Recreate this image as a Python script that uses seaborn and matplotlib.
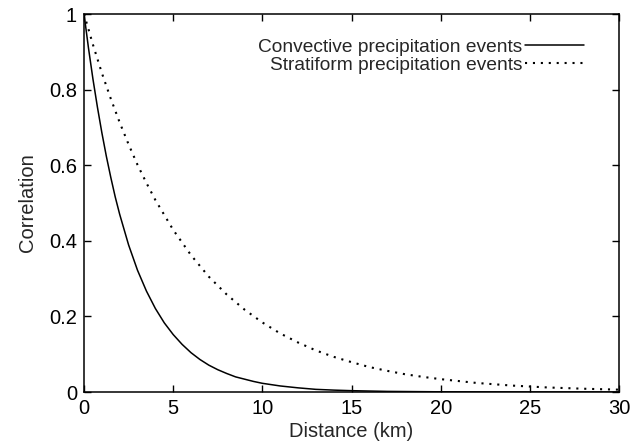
import matplotlib
matplotlib.use("Agg")
import matplotlib.pyplot as plt
import seaborn as sns
import pandas as pd

# Values
conv_km = [0, 0.25, 0.5, 0.75, 1, 1.25, 1.5, 1.75, 2, 2.5, 3, 3.5, 4, 4.5, 5, 5.5, 6,
           6.5, 7, 7.5, 8, 8.5, 9, 9.5, 10, 11, 12, 13, 14, 15, 17, 20, 25, 30]
conv_corr = [1.000, 0.910, 0.828, 0.754, 0.686, 0.624, 0.568, 0.516, 0.470, 0.389,
             0.322, 0.267, 0.221, 0.183, 0.152, 0.126, 0.104, 0.086, 0.071, 0.059,
             0.049, 0.040, 0.034, 0.028, 0.023, 0.016, 0.011, 0.007, 0.005, 0.0035,
             0.0016, 0.0005, 0.0001, 0.0]
strat_km = [0, 0.5, 1, 1.5, 2, 2.5, 3, 3.5, 4, 5, 6, 7, 8, 9, 10, 11, 12, 13, 14,
            15, 16, 17, 18, 19, 20, 22, 24, 26, 28, 30]
strat_corr = [1.000, 0.919, 0.844, 0.776, 0.713, 0.655, 0.601, 0.553, 0.508, 0.429,
              0.362, 0.305, 0.258, 0.218, 0.184, 0.155, 0.131, 0.110, 0.093, 0.079,
              0.066, 0.056, 0.047, 0.040, 0.034, 0.024, 0.017, 0.012, 0.0087, 0.0062]
series_names = ["Convective precipitation events", "Stratiform precipitation events"]
x_ticks = [0, 5, 10, 15, 20, 25, 30]
y_ticks = [0, 0.2, 0.4, 0.6, 0.8, 1]
y_tick_labels = ["0", "0.2", "0.4", "0.6", "0.8", "1"]

df = pd.concat([
    pd.DataFrame({"Distance": conv_km, "Correlation": conv_corr, "series": series_names[0]}),
    pd.DataFrame({"Distance": strat_km, "Correlation": strat_corr, "series": series_names[1]}),
], ignore_index=True)

sns.set_style("ticks")
plt.rcParams["font.family"] = ["Liberation Sans", "DejaVu Sans"]
plt.rcParams["font.size"] = 14

fig = plt.figure(figsize=(6.38, 4.45), dpi=100)
ax = fig.add_axes([0.1317, 0.1191, 0.9702 - 0.1317, 0.9685 - 0.1191])

sns.lineplot(data=df, x="Distance", y="Correlation", hue="series", style="series",
             palette={series_names[0]: "black", series_names[1]: "black"},
             dashes={series_names[0]: "", series_names[1]: (1.0, 2.8)},
             linewidth=1.1, ax=ax, legend=True)
# make the dotted series a little bolder, like the reference
ax.lines[1].set_linewidth(1.5)

ax.set_xlim(0, 30)
ax.set_ylim(0, 1)
ax.set_xticks(x_ticks)
ax.set_xticklabels([str(t) for t in x_ticks])
ax.set_yticks(y_ticks)
ax.set_yticklabels(y_tick_labels)
ax.tick_params(direction="in", length=5, width=1, top=True, right=True,
               labelsize=14.5, colors="black", pad=5)
for s in ax.spines.values():
    s.set_visible(True)
    s.set_linewidth(1.1)
    s.set_color("black")
ax.set_xlabel("Distance (km)", fontsize=14.5, labelpad=3)
ax.set_ylabel("Correlation", fontsize=14.5, labelpad=9)

handles, labels = ax.get_legend_handles_labels()
handles[1].set_linewidth(1.5)
leg = ax.legend(handles, labels, loc="upper right", frameon=False, markerfirst=False,
                handlelength=3.1, handletextpad=0.15, labelspacing=0.0,
                fontsize=13.8, bbox_to_anchor=(0.9495, 0.955), borderaxespad=0)
for col in leg._legend_handle_box.get_children():
    col.align = "right"

fig.savefig("out.png", dpi=100)
